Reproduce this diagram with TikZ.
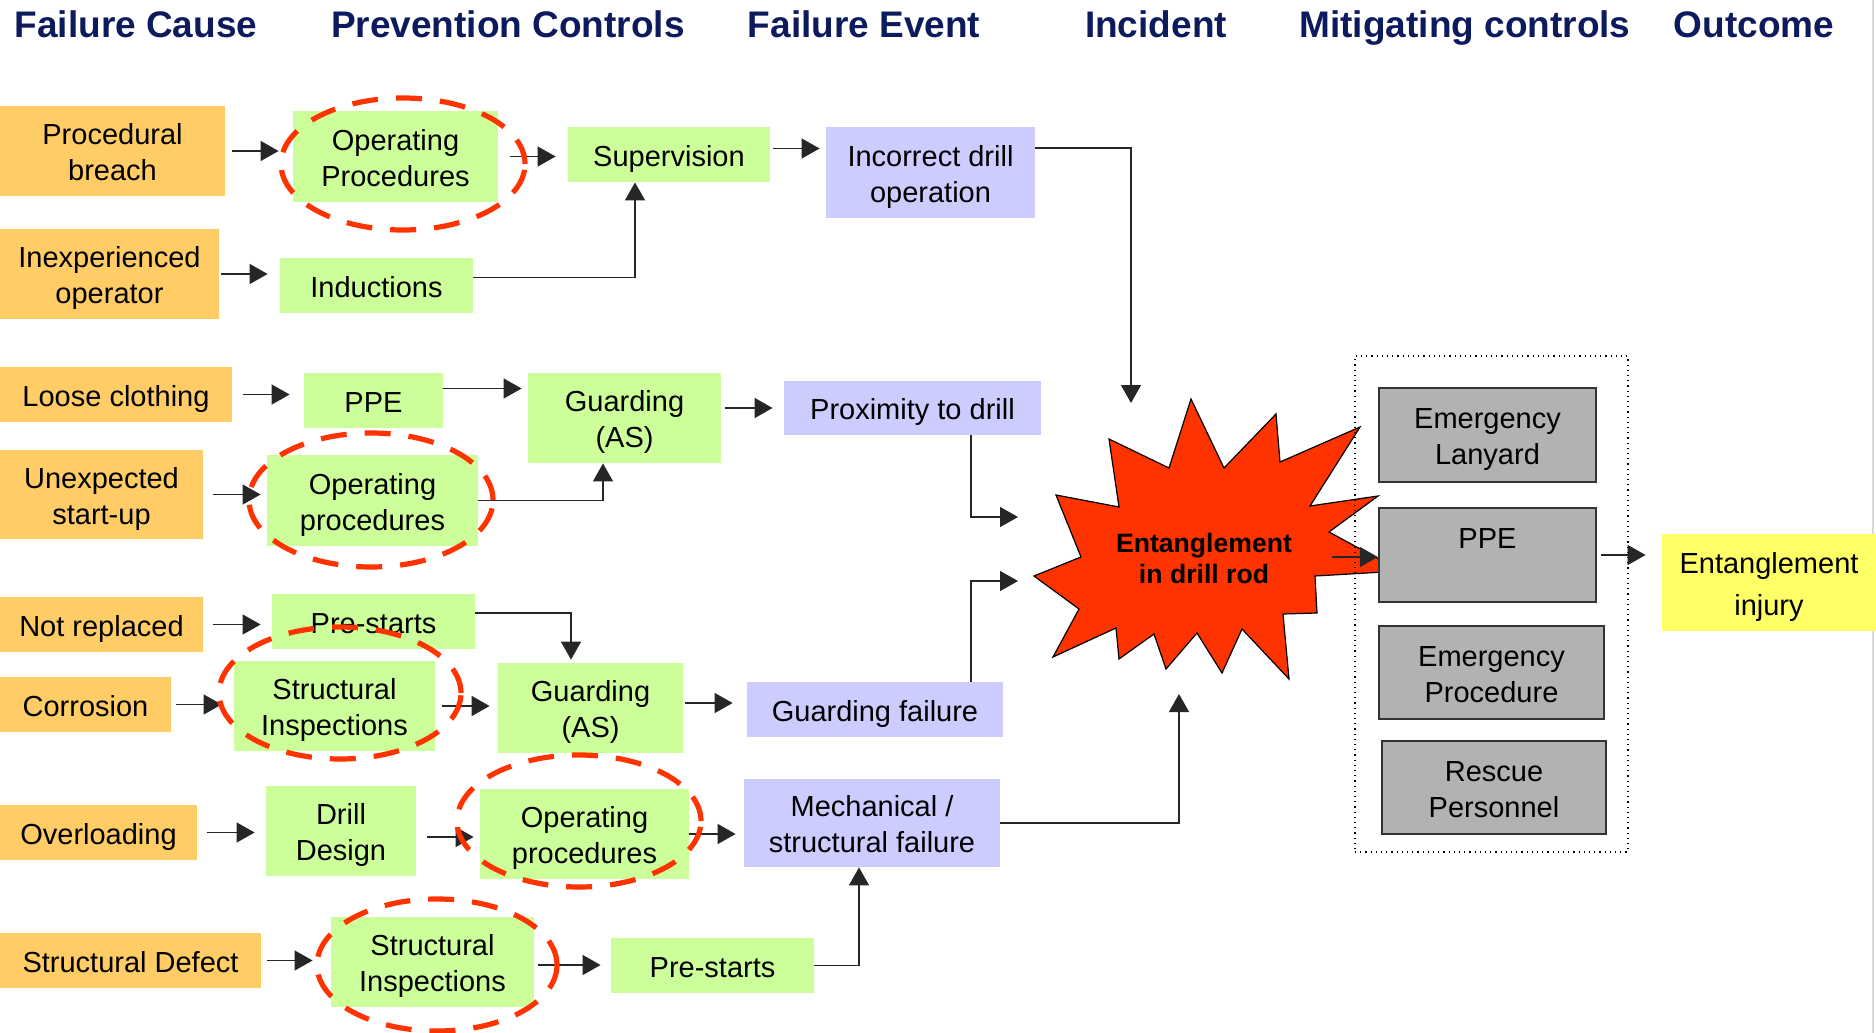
\documentclass[tikz,border=0pt]{standalone}
\usepackage{fontspec}
\setmainfont{Liberation Sans}
\usetikzlibrary{arrows.meta}
\definecolor{causeC}{HTML}{FFCC66}
\definecolor{ctrlC}{HTML}{CCFF99}
\definecolor{eventC}{HTML}{CCCCFF}
\definecolor{mitigC}{HTML}{B2B2B2}
\definecolor{outC}{HTML}{FFFF66}
\definecolor{starC}{HTML}{FF3300}
\definecolor{headC}{HTML}{0D1B5E}
\begin{document}
\begin{tikzpicture}[x=0.5pt, y=-0.5pt,
	box/.style 2 args={inner sep=0pt, align=center, minimum width=#1*0.5pt, minimum height=#2*0.5pt,
		font=\fontsize{14.5}{18}\selectfont},
	one/.style={text height=16.7pt, text depth=4.9pt},
	two/.style={text height=32.7pt, text depth=3.07pt},
	cause/.style={fill=causeC},
	ctrl/.style={fill=ctrlC},
	event/.style={fill=eventC},
	mitig/.style={fill=mitigC, draw=black!80, line width=1.1pt},
	outc/.style={fill=outC, font=\fontsize{14.5}{21}\selectfont, text height=35.7pt},
	head/.style={anchor=base, text=headC, font=\fontsize{18.5}{22}\selectfont\bfseries},
	arr/.style={-{Triangle[length=9pt,width=10pt]}, line width=0.7pt, draw=black!85},
	ring/.style={draw=starC, line width=2.6pt, dash pattern=on 13pt off 9pt}]
				\useasboundingbox (0,0) rectangle (1876,1033);
				\draw[black!15, line width=1pt] (1873,0) -- (1873,1033);
				% column heads
				\node[head] (hCause) at (136, 37) {Failure Cause};
				\node[head] (hPrev) at (508, 37) {Prevention Controls};
				\node[head] (hEvent) at (864, 37) {Failure Event};
				\node[head] (hInc) at (1156, 37) {Incident};
				\node[head] (hMit) at (1465, 37) {Mitigating controls};
				\node[head] (hOut) at (1754, 37) {Outcome};
				% failure causes
				\node[cause, box={225}{90}, two] (pb) at (112.5, 151) {Procedural\\breach};
				\node[cause, box={219}{90}, two] (io) at (109.5, 274) {Inexperienced\\operator};
				\node[cause, box={232}{55}, one] (lc) at (116, 394.5) {Loose clothing};
				\node[cause, box={203}{89}, two] (us) at (101.5, 494.5) {Unexpected\\start-up};
				\node[cause, box={203}{55}, one] (nr) at (101.5, 624.5) {Not replaced};
				\node[cause, box={171}{55}, one] (co) at (85.5, 704.5) {Corrosion};
				\node[cause, box={197}{55}, one] (ol) at (98.5, 832.5) {Overloading};
				\node[cause, box={261}{55}, one] (sd) at (130.5, 960.5) {Structural Defect};
				% prevention controls
				\node[ctrl, box={205}{91}, two] (op1) at (395.5, 156.5) {Operating\\Procedures};
				\node[ctrl, box={202}{55}, one] (sup) at (669, 154.5) {Supervision};
				\node[ctrl, box={193}{55}, one] (ind) at (376.5, 285.5) {Inductions};
				\node[ctrl, box={139}{55}, one] (ppe1) at (373.5, 400.5) {PPE};
				\node[ctrl, box={193}{90}, two] (gd1) at (624.5, 418) {Guarding\\(AS)};
				\node[ctrl, box={211}{91}, two] (op2) at (372.5, 500.5) {Operating\\procedures};
				\node[ctrl, box={203}{55}, one] (ps1) at (373.5, 621.5) {Pre-starts};
				\node[ctrl, box={201}{90}, two] (si1) at (334.5, 706) {Structural\\Inspections};
				\node[ctrl, box={185}{90}, two] (gd2) at (590.5, 708) {Guarding\\(AS)};
				\node[ctrl, box={150}{90}, two] (dd) at (341, 831) {Drill\\Design};
				\node[ctrl, box={209}{90}, two] (op3) at (584.5, 834) {Operating\\procedures};
				\node[ctrl, box={203}{90}, two] (si2) at (432.5, 962) {Structural\\Inspections};
				\node[ctrl, box={203}{55}, one] (ps2) at (712.5, 965.5) {Pre-starts};
				% failure events
				\node[event, box={209}{91}, two] (inc) at (930.5, 172.5) {Incorrect drill\\operation};
				\node[event, box={257}{54}, one] (prox) at (912.5, 408) {Proximity to drill};
				\node[event, box={256}{55}, one] (gf) at (875, 709.5) {Guarding failure};
				\node[event, box={256}{88}, two] (mech) at (872, 823) {Mechanical /\\structural failure};
				% incident
				\draw[fill=starC, line width=0.6pt] (1191,399) -- (1224,468) -- (1276,414) -- (1280,462) -- (1360,427)
					-- (1310,506) -- (1378,496) -- (1329,532) -- (1401,571) -- (1315,576) -- (1317,613) -- (1283,614)
					-- (1289,679) -- (1242,629) -- (1222,673) -- (1197,633) -- (1166,669) -- (1154,634) -- (1119,659)
					-- (1116,628) -- (1053,657) -- (1079,609) -- (1034,576) -- (1081,557) -- (1056,495) -- (1119,507)
					-- (1109,439) -- (1169,468) -- cycle;
				\node[align=center, font=\fontsize{13.3}{15.5}\selectfont\bfseries] (star) at (1204, 558) {Entanglement\\in drill rod};
				\coordinate (inTop) at (1131, 403);
				\coordinate (inProx) at (1018, 517);
				\coordinate (inGuard) at (1018, 581);
				\coordinate (inMech) at (1179, 694);
				\coordinate (outStar) at (1332, 557);
				% mitigating controls
				\node[box={273}{496}, draw, dotted, line width=0.6pt] (mitFrame) at (1491.5, 604) {};
				\node[mitig, box={217}{94}, two] (el) at (1487.5, 435) {Emergency\\Lanyard};
				\node[mitig, box={217}{94}, two] (ppe2) at (1487.5, 555) {PPE\\~};
				\node[mitig, box={225}{93}, two] (ep) at (1491.5, 672.5) {Emergency\\Procedure};
				\node[mitig, box={224}{93}, two] (rp) at (1494, 787.5) {Rescue\\Personnel};
				% outcome
				\node[box={214}{97}, two, outc] (inj) at (1769, 582.5) {Entanglement\\injury};
				% connectors
				\draw[arr, shorten <=3.5pt, shorten >=7pt] (pb.east) -- (pb.east -| op1.west);
				\draw[arr, shorten <=6pt, shorten >=6pt] (op1.east) -- (op1.east -| sup.west);
				\draw[arr, shorten <=1.5pt, shorten >=3pt] ([yshift=3pt]sup.east) -- ([yshift=3pt]sup.east -| inc.west);
				\draw[arr, shorten <=1pt, shorten >=6pt] (io.east) -- (io.east -| ind.west);
				\draw[arr] ([yshift=4pt]ind.east) -| ([xshift=-17pt]sup.south);
				\draw[arr, shorten <=5.5pt, shorten >=7pt] (lc.east) -- (lc.east -| ppe1.west);
				\draw[arr, shorten >=3pt] ([yshift=6pt]ppe1.east) -- ([yshift=6pt]ppe1.east -| gd1.west);
				\draw[arr, shorten <=2pt, shorten >=5.5pt] (gd1.east |- prox) -- (prox.west);
				\draw[arr, shorten <=5pt, shorten >=3pt] (us.east) -- (us.east -| op2.west);
				\draw[arr] (op2.east) -| ([xshift=-10.75pt]gd1.south);
				\draw[arr, shorten <=5pt, shorten >=5.5pt] (nr.east) -- (nr.east -| ps1.west);
				\draw[arr, shorten >=1.5pt] ([yshift=4.25pt]ps1.east) -| ([xshift=-9.75pt]gd2.north);
				\draw[arr, shorten <=2.5pt, shorten >=6pt] (co.east) -- (co.east -| si1.west);
				\draw[arr, shorten <=3.5pt, shorten >=4pt] (si1.east) -- (si1.east -| gd2.west);
				\draw[arr, shorten <=1pt, shorten >=7pt] ([yshift=2.5pt]gd2.east) -- ([yshift=2.5pt]gd2.east -| gf.west);
				\draw[arr, shorten <=5pt, shorten >=5.5pt] (ol.east) -- (ol.east -| dd.west);
				\draw[arr, shorten <=5.5pt, shorten >=3pt] ([yshift=-3pt]dd.east) -- ([yshift=-3pt]dd.east -| op3.west);
				\draw[arr, shorten >=4pt] (op3.east) -- (op3.east -| mech.west);
				\draw[arr, shorten <=3pt, shorten >=9pt] (sd.east) -- (sd.east -| si2.west);
				\draw[arr, shorten <=2pt, shorten >=5pt] ([yshift=-1.5pt]si2.east) -- ([yshift=-1.5pt]si2.east -| ps2.west);
				\draw[arr] (ps2.east) -| ([xshift=-6.5pt]mech.south);
				\draw[arr] ([yshift=12.25pt]inc.east) -| (inTop);
				\draw[arr] ([xshift=29.25pt]prox.south) |- (inProx);
				\draw[arr] ([xshift=48pt]gf.north) |- (inGuard);
				\draw[arr] (mech.east) -| (inMech);
				\draw[arr] (outStar) -- (outStar -| ppe2.west);
				\draw[arr, shorten <=2pt, shorten >=8pt] (ppe2.east) -- (ppe2.east -| inj.west);
				% rings round the key controls
				\draw[ring] (403, 164) ellipse [x radius=61pt, y radius=33pt];
				\draw[ring] (371, 500) ellipse [x radius=61pt, y radius=33.5pt];
				\draw[ring] (340, 693) ellipse [x radius=60.5pt, y radius=33pt];
				\draw[ring] (579, 821) ellipse [x radius=61pt, y radius=33pt];
				\draw[ring] (437, 965) ellipse [x radius=60pt, y radius=33pt];
			\end{tikzpicture}
\end{document}
